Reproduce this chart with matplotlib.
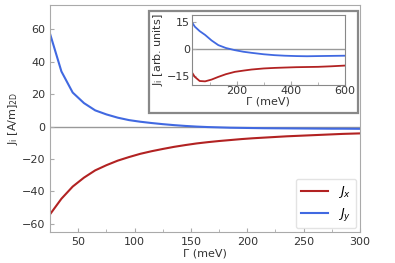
import matplotlib.pyplot as plt
from matplotlib.patches import Rectangle
from matplotlib.ticker import MultipleLocator

# Data: main panel
gamma = [25, 35, 45, 55, 65, 75, 85, 95, 105, 115, 125, 135, 145, 155, 165, 175,
         185, 195, 205, 215, 225, 235, 245, 255, 265, 275, 285, 295, 305]
jx = [-54, -44.5, -37, -31.5, -27, -23.8, -21, -18.8, -16.8, -15.2, -13.8, -12.5,
      -11.4, -10.4, -9.6, -8.9, -8.3, -7.7, -7.2, -6.8, -6.4, -6.0, -5.7, -5.4,
      -5.1, -4.8, -4.5, -4.3, -4.1]
jy = [57, 34, 21, 14.5, 10, 7.5, 5.5, 4, 3, 2.2, 1.5, 0.9, 0.4, 0.0, -0.3, -0.5,
      -0.7, -0.8, -0.9, -1.0, -1.05, -1.1, -1.15, -1.2, -1.25, -1.3, -1.3, -1.35, -1.4]

# Data: inset
gamma_in = [33, 45, 63, 83, 107, 132, 160, 193, 225, 255, 300, 340, 378, 420, 460, 501, 550, 600]
jx_in = [-12.7, -15.5, -17.8, -18, -17, -15.5, -14, -12.7, -12.0, -11.4, -10.8, -10.5,
         -10.3, -10.1, -10.0, -9.9, -9.6, -9.2]
jy_in = [15.3, 12.5, 10, 7.9, 4.8, 2.2, 0.6, -0.6, -1.5, -2.1, -2.9, -3.4, -3.7, -3.9,
         -4.0, -3.9, -3.8, -3.7]

red = '#b22222'
blue = '#4169e1'
txt = '#333333'
spine = '#aaaaaa'

fig = plt.figure(figsize=(3.95, 2.63), dpi=100)
ax = fig.add_axes([0.127, 0.118, 0.784, 0.863])

ax.plot(gamma, jx, color=red, lw=1.5, label=r'$J_x$')
ax.plot(gamma, jy, color=blue, lw=1.5, label=r'$J_y$')
ax.axhline(0, color='#999999', lw=1, zorder=0)
ax.set_xlim(25, 300)
ax.set_ylim(-65, 75)
ax.set_xticks([50, 100, 150, 200, 250, 300])
ax.set_yticks([-60, -40, -20, 0, 20, 40, 60])
ax.xaxis.set_minor_locator(MultipleLocator(25))
ax.tick_params(which='both', direction='in', colors=spine, labelcolor=txt, labelsize=8)
ax.tick_params(which='major', length=3)
ax.tick_params(which='minor', length=2)
for s in ax.spines.values():
    s.set_color(spine)
ax.set_xlabel('Γ (meV)', fontsize=8, color=txt, labelpad=1)
ax.set_ylabel(r'J$_\mathrm{i}$ [A/m]$_\mathrm{2D}$', fontsize=8, color=txt, labelpad=1)
leg = ax.legend(loc='lower right', fontsize=9, frameon=True, handlelength=2.2,
                borderaxespad=0.3)
leg.get_frame().set_edgecolor('#dddddd')

# inset frame
ax.add_patch(Rectangle((0.377, 0.570), 0.529, 0.389, transform=fig.transFigure,
                       facecolor='white', edgecolor='#888888', lw=1.6,
                       clip_on=False, zorder=5))

axin = fig.add_axes([0.485, 0.677, 0.388, 0.266])
axin.plot(gamma_in, jx_in, color=red, lw=1.3)
axin.plot(gamma_in, jy_in, color=blue, lw=1.3)
axin.axhline(0, color='#999999', lw=1, zorder=0)
axin.set_xlim(33, 600)
axin.set_ylim(-20, 19)
axin.set_xticks([200, 400, 600])
axin.set_yticks([-15, 0, 15])
axin.xaxis.set_minor_locator(MultipleLocator(100))
axin.tick_params(which='both', direction='in', colors=spine, labelcolor=txt, labelsize=8, pad=1)
axin.tick_params(which='major', length=3)
axin.tick_params(which='minor', length=2)
for s in axin.spines.values():
    s.set_color('#888888')
axin.set_xlabel('Γ (meV)', fontsize=8, color=txt, labelpad=0)
axin.set_ylabel(r'J$_\mathrm{i}$ [arb. units]', fontsize=8, color=txt, labelpad=1)

fig.savefig('out.png', dpi=100)
